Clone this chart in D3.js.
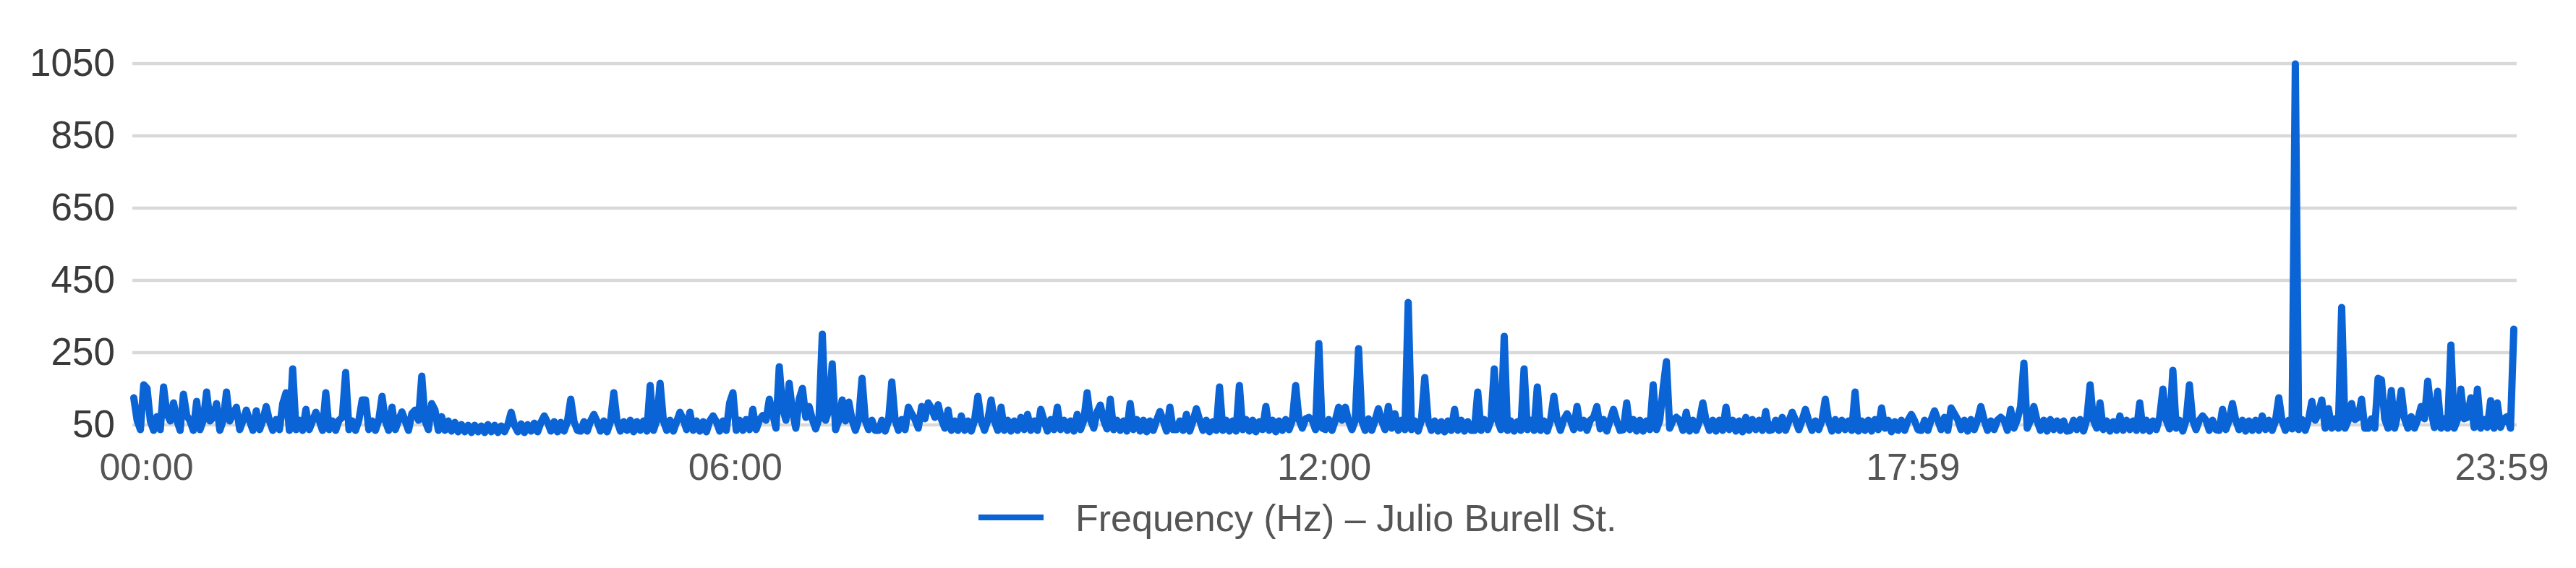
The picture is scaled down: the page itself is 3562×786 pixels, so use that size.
<!DOCTYPE html>
<html lang="en">
<head>
<meta charset="UTF-8">
<title>Frequency (Hz) – Julio Burell St.</title>
<script src="https://d3js.org/d3.v7.min.js"></script>
<style>
  html, body { margin: 0; padding: 0; background: #fff; }
  svg { display: block; font-family: "Liberation Sans", Arial, sans-serif; }
</style>
</head>
<body>
<div id="chart"></div>
<script>
// one reading every 2 minutes, 00:00 .. 23:58 (45 per 90 min row)
var values = [
  124, 62, 36, 160, 150, 60, 34, 72, 36, 154, 80, 60, 110, 62, 34, 134, 75, 60, 34, 114, 36, 62, 140, 60, 70, 108, 34, 62, 140, 60, 80, 98, 36, 62, 90, 60, 34, 88, 36, 62, 100, 60, 34, 64, 36,
  108, 138, 34, 204, 36, 62, 34, 92, 36, 60, 84, 62, 34, 138, 36, 60, 34, 62, 70, 194, 36, 60, 34, 62, 118, 118, 36, 60, 34, 62, 128, 60, 34, 98, 36, 62, 85, 60, 34, 80, 90, 62, 184, 60, 36,
  108, 90, 34, 72, 34, 60, 32, 56, 30, 50, 30, 48, 28, 48, 30, 46, 28, 50, 30, 48, 28, 46, 30, 50, 84, 48, 30, 52, 28, 50, 32, 54, 30, 56, 74, 56, 32, 58, 30, 56, 32, 58, 120, 58, 34,
  32, 58, 32, 60, 78, 58, 32, 60, 30, 58, 138, 60, 32, 58, 34, 62, 30, 58, 34, 60, 32, 158, 34, 62, 164, 60, 34, 62, 32, 58, 84, 64, 36, 84, 34, 60, 32, 58, 30, 60, 74, 58, 32, 60, 34,
  110, 138, 34, 62, 34, 64, 36, 92, 36, 62, 75, 62, 120, 80, 40, 210, 95, 62, 164, 85, 40, 120, 150, 70, 100, 64, 38, 66, 300, 62, 90, 218, 36, 62, 118, 60, 112, 62, 34, 64, 178, 60, 36, 62, 34,
  34, 62, 32, 60, 168, 62, 34, 64, 36, 98, 80, 64, 40, 100, 66, 110, 95, 70, 105, 64, 40, 90, 34, 60, 34, 74, 34, 60, 32, 62, 128, 60, 34, 62, 118, 60, 34, 98, 34, 62, 32, 60, 34, 70, 36,
  78, 34, 60, 34, 92, 60, 32, 64, 36, 98, 36, 62, 34, 60, 32, 78, 36, 62, 138, 64, 40, 85, 104, 62, 38, 120, 36, 62, 34, 60, 32, 108, 36, 64, 32, 62, 30, 60, 34, 62, 86, 60, 32, 98, 36,
  36, 60, 34, 78, 32, 60, 94, 62, 34, 62, 30, 58, 34, 154, 34, 62, 32, 60, 32, 158, 36, 64, 32, 62, 30, 58, 36, 100, 34, 62, 30, 60, 34, 64, 36, 62, 158, 64, 40, 66, 70, 62, 36, 274, 40,
  36, 64, 34, 62, 98, 62, 98, 60, 36, 62, 260, 60, 34, 66, 34, 62, 94, 60, 36, 100, 40, 80, 34, 62, 36, 388, 36, 60, 32, 62, 180, 62, 34, 60, 32, 58, 30, 60, 34, 92, 34, 62, 32, 58, 34,
  34, 140, 34, 64, 36, 62, 204, 62, 36, 294, 34, 60, 32, 58, 34, 204, 36, 62, 34, 154, 34, 60, 32, 62, 128, 62, 34, 64, 80, 62, 36, 100, 40, 62, 34, 62, 70, 100, 38, 64, 32, 62, 92, 60, 34,
  36, 110, 36, 64, 32, 62, 32, 60, 36, 160, 36, 62, 150, 224, 40, 62, 70, 62, 34, 84, 32, 62, 34, 60, 110, 60, 34, 62, 32, 62, 34, 98, 36, 62, 32, 60, 30, 70, 34, 64, 36, 62, 34, 86, 34,
  36, 62, 34, 70, 34, 60, 84, 62, 36, 62, 92, 60, 34, 60, 36, 62, 120, 60, 32, 64, 34, 62, 36, 60, 34, 140, 32, 60, 34, 62, 32, 64, 36, 96, 40, 62, 30, 58, 34, 62, 34, 62, 78, 60, 36,
  34, 62, 34, 64, 88, 62, 36, 70, 34, 96, 80, 64, 36, 62, 32, 64, 36, 62, 100, 62, 34, 60, 36, 62, 70, 62, 34, 92, 40, 64, 100, 220, 40, 62, 100, 60, 34, 62, 32, 64, 36, 60, 34, 60, 32,
  34, 62, 36, 64, 32, 64, 160, 62, 40, 110, 36, 60, 32, 58, 34, 74, 34, 62, 36, 60, 34, 110, 34, 62, 32, 60, 36, 70, 148, 62, 38, 200, 40, 62, 32, 62, 160, 62, 36, 62, 74, 62, 34, 62, 36,
  34, 92, 36, 62, 108, 62, 36, 62, 32, 60, 34, 62, 34, 74, 36, 62, 34, 60, 124, 60, 34, 62, 38, 1048, 36, 64, 34, 64, 114, 62, 80, 118, 40, 94, 40, 66, 40, 374, 40, 62, 108, 64, 70, 120, 40,
  40, 66, 40, 178, 174, 66, 40, 144, 40, 80, 144, 66, 40, 72, 40, 64, 100, 66, 170, 90, 42, 142, 40, 66, 40, 270, 40, 64, 148, 66, 70, 124, 42, 148, 40, 64, 42, 116, 40, 110, 42, 66, 72, 40, 314
];
var yTicks = [50, 250, 450, 650, 850, 1050];
var xLabels = ["00:00", "06:00", "12:00", "17:59", "23:59"];
var seriesName = "Frequency (Hz) \u2013 Julio Burell St.";

var width = 3562, height = 786;
var plotLeft = 183, plotRight = 3480, plotTop = 87.5, plotBottom = 587.5;
var blue = "#0a64d6";

var svg = d3.select("#chart").append("svg")
    .attr("width", width)
    .attr("height", height);

var x = d3.scaleLinear()
    .domain([0, values.length - 1])
    .range([plotLeft + 2, plotRight - 4]);

var y = d3.scaleLinear()
    .domain([50, 1050])
    .range([plotBottom, plotTop]);

// gridlines + y labels
var yAxis = svg.append("g")
    .attr("transform", "translate(" + plotLeft + ",0)")
    .call(d3.axisLeft(y).tickValues(yTicks).tickFormat(d3.format("d"))
        .tickSize(-(plotRight - plotLeft)).tickPadding(24));
yAxis.select(".domain").remove();
yAxis.selectAll(".tick line")
    .attr("stroke", "#d9d9d9")
    .attr("stroke-width", 4.5);
yAxis.selectAll(".tick text")
    .attr("fill", "#3a3a3a")
    .attr("font-size", 53)
    .attr("font-family", "Liberation Sans, Arial, sans-serif");

// x labels (evenly spaced, slightly inset like the original)
var xl = d3.scalePoint()
    .domain(xLabels)
    .range([plotLeft + 19, plotRight - 21]);
var xAxis = svg.append("g")
    .attr("transform", "translate(0," + plotBottom + ")")
    .call(d3.axisBottom(xl).tickSize(0).tickPadding(40));
xAxis.select(".domain").remove();
xAxis.selectAll(".tick text")
    .attr("fill", "#555")
    .attr("font-size", 52)
    .attr("font-family", "Liberation Sans, Arial, sans-serif");

// the series
var line = d3.line()
    .x(function(d, i) { return x(i); })
    .y(function(d) { return y(d); });

svg.append("path")
    .datum(values)
    .attr("fill", "none")
    .attr("stroke", blue)
    .attr("stroke-width", 10)
    .attr("stroke-linejoin", "round")
    .attr("stroke-linecap", "round")
    .attr("d", line);

// legend
var legend = svg.append("g").attr("transform", "translate(1353,716)");
legend.append("line")
    .attr("x1", 0).attr("x2", 90)
    .attr("y1", 0).attr("y2", 0)
    .attr("stroke", blue)
    .attr("stroke-width", 8);
legend.append("text")
    .attr("x", 134)
    .attr("y", 19)
    .attr("fill", "#555")
    .attr("font-size", 52)
    .text(seriesName);
</script>
</body>
</html>
